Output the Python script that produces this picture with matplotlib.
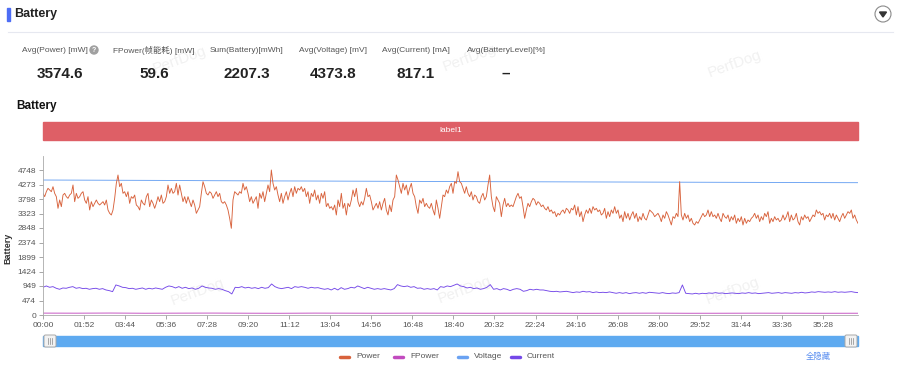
import numpy as np
import matplotlib
matplotlib.use('Agg')
import matplotlib.pyplot as plt
from matplotlib.patches import Rectangle, Circle, Polygon, FancyBboxPatch

plt.rcParams['font.family'] = ['Liberation Sans', 'Noto Sans CJK SC', 'DejaVu Sans']

# ---- data ----
duration = 2224  # seconds covered (about 37:04)

stat_labels = ['Avg(Power) [mW]', 'FPower(帧能耗) [mW]', 'Sum(Battery)[mWh]',
               'Avg(Voltage) [mV]', 'Avg(Current) [mA]', 'Avg(BatteryLevel)[%]']
stat_values = ['3574.6', '59.6', '2207.3', '4373.8', '817.1', '–']

power = [
    3984, 3875, 4038, 4148, 4093, 4038, 4202, 3984, 3875, 3493,
    3766, 3548, 3929, 3984, 3875, 3820, 3929, 3984, 4257, 3711,
    3984, 3820, 3875, 3984, 4038, 3766, 3657, 3875, 3439, 3711,
    3548, 3657, 3766, 3657, 3602, 3657, 3711, 3602, 3766, 3439,
    3329, 3275, 3439, 3820, 4311, 4584, 4202, 4311, 3984, 4038,
    3875, 4038, 3657, 3875, 3820, 3929, 3602, 3548, 3439, 3766,
    3657, 3602, 3875, 3984, 3548, 3766, 3657, 3493, 3657, 3875,
    3711, 3929, 3657, 3711, 3875, 4257, 3984, 4148, 3984, 4038,
    4311, 3929, 4257, 3984, 3711, 3875, 3657, 3875, 3711, 3548,
    3766, 3602, 3329, 3439, 3548, 3984, 4366, 4202, 3984, 3929,
    4038,
    # 03:43 - 08:10 region
    3984, 3820, 3929, 4038, 3875, 3984, 3711, 3657, 3711, 3602,
    3439, 3166, 2839, 3766, 4038, 3984, 3929, 4038, 3984, 4311,
    4093, 4202, 3984, 3711, 3875, 3657, 3766, 3875, 3493, 3984,
    3820, 4038, 3711, 3984, 4257, 4038, 4748, 4311, 4093, 4202,
    3929, 3711, 3984, 3657, 3875, 4038, 3766, 3984, 4148, 3875,
    4202, 3984, 4148, 4093, 4202, 4038, 4148, 3875, 4038, 3657,
    3984, 3875, 4093, 3766, 3929, 3657, 3984, 3820, 4038, 3548,
    3657, 3493, 3548, 3439, 3602, 3275, 3766, 3548, 3984, 3493,
    3657, 3275, 3657, 3548, 3766, 4093, 3875, 4148, 3711, 3548,
    3711, 3602, 3820, 4148, 3875, 3929, 3711, 3439, 3548,
    # 16:00 region
    3657, 3493, 3711, 3439, 3657, 3820, 3439, 3275, 3602, 3384,
    3766, 3875, 4584, 4420, 4202, 3984, 4311, 4093, 4257, 3929,
    4148, 4311, 3984, 3875, 3548, 3329, 3766, 3657, 3820, 3548,
    3657, 3548, 3493, 3657, 3439, 3275, 3766, 3493, 3166, 3548,
    3929, 3875, 4093, 3984, 4202, 4311, 3984, 4366, 4311, 4693,
    4366, 4311, 4148, 3984, 4202, 3984, 3875, 4038, 3766, 3929,
    3875, 3711, 3657, 3875, 3984, 3766, 3875, 4257, 4584, 3875,
    3548, 3384, 3875, 3766, 3657, 3220, 3602, 3820, 3548, 3657,
    3548, 3602, 3548, 3711, 3875, 3984, 3820, 3875, 3548, 3166,
    3439, 3657, 3548, 3711, 3820, 3766, 3602, 3711, 3657,
    # 22:00 region
    3548, 3602, 3493, 3439, 3548, 3384, 3439, 3329, 3384, 3220,
    3329, 3275, 3384, 3439, 3329, 3493, 3439, 3329, 3493, 3439,
    3602, 3275, 3548, 3220, 3384, 3057, 3275, 3439, 3329, 3493,
    3329, 3548, 3439, 3493, 3384, 3439, 3275, 3329, 3493, 3166,
    3384, 3220, 3439, 3329, 3548, 3329, 3439, 3166, 3275, 3057,
    3384, 3166, 3329, 3111, 3275, 3384, 3166, 3329, 3057, 3220,
    3111, 3329, 3166, 3111, 3275, 3439, 3384, 3329, 3220, 3275,
    3329, 3220, 3057, 3275, 3166, 3384, 3275, 3111, 2948, 3220,
    3166, 3329, 3220, 4366, 3275, 3111, 3329, 3166, 3275, 3057,
    3166, 3002, 2948, 3057, 3002, 3111, 3220, 3329, 3220,
    # 31:00 region
    3275, 3439, 3220, 3384, 3220, 3275, 3166, 3329, 3166, 3057,
    3329, 3220, 3166, 3275, 3057, 3220, 3111, 3275, 3002, 3166,
    3057, 3220, 2948, 3166, 3002, 3111, 3057, 3166, 3220, 3329,
    3166, 3275, 3057, 3220, 3111, 3329, 3220, 3384, 3002, 3166,
    3057, 3220, 3111, 3166, 3057, 3111, 3275, 3111, 3220, 3384,
    3057, 3275, 3111, 3166, 3329, 3057, 2948, 3220, 3111, 3275,
    3166, 3220, 3057, 3166, 3275, 3220, 3439, 3329, 3384, 3275,
    3329, 3111, 3275, 3220, 3329, 3166, 3329, 3111, 3275, 3166,
    3057, 3220, 3329, 3166, 3275, 3384, 3329, 3439, 3166, 3275,
    3111, 3002,
]

current = [
    907, 951, 907, 929, 875, 842, 885, 875, 907, 929,
    875, 896, 864, 875, 842, 864, 875, 842, 864, 820,
    798, 765, 984, 951, 907, 896, 864, 875, 842, 864,
    885, 842, 875, 853, 885, 864, 842, 907, 951, 929,
    885, 929, 875, 907, 864, 885, 842, 875, 951, 907,
    885,
    875, 842, 864, 842, 798, 765, 689, 907, 896, 929,
    885, 907, 875, 896, 864, 907, 875, 896, 1016, 929,
    885, 864, 885, 907, 864, 929, 907, 929, 907, 875,
    907, 885, 896, 864, 842, 864, 820, 875, 820, 896,
    842, 864, 907, 885, 951, 907, 864, 907, 875, 842,
    864, 842, 864, 842, 820, 864, 995, 951, 929, 951,
    907, 929, 875, 885, 842, 864, 842, 864, 820, 929,
    907, 951, 929, 973, 1016, 951, 929, 885, 907, 864,
    885, 842, 864, 907, 995, 842, 864, 820, 864, 842,
    798, 842, 864, 842, 776, 798, 842, 820, 842, 820,
    820, 798, 776, 765, 776, 755, 765, 776, 755, 733,
    755, 744, 776, 755, 765, 733, 755, 733, 744, 733,
    755, 733, 711, 733, 711, 733, 700, 722, 733, 711,
    733, 711, 744, 733, 722, 711, 733, 711, 700, 722,
    711, 733, 984, 711, 700, 689, 711, 689, 711, 700,
    722, 711, 733, 711, 722, 700, 711, 722, 711, 700,
    722, 711, 733, 711, 722, 700, 711, 722, 733, 711,
    722, 733, 711, 733, 722, 711, 733, 722, 744, 722,
    733, 755, 744, 765, 755, 744, 755, 744, 765, 744,
    755, 744, 755, 765, 744, 733,
]

voltage = [4420, 4415, 4410, 4405, 4398, 4392, 4388, 4383, 4378, 4372,
           4368, 4364, 4360, 4356, 4352, 4348, 4344, 4340, 4336, 4333]

fpower = [62, 60, 64, 58, 61, 63, 59, 57, 62, 60, 58, 61, 59,
          57, 60, 58, 56, 59, 61, 57, 58, 60, 59, 57, 58]

series_names = ['Power', 'FPower', 'Voltage', 'Current']
series_colors = ['#d8623c', '#c24bbf', '#6aa2f2', '#7448e8']

y_step = 474.8
y_ticks = np.arange(11) * y_step
x_ticks = np.arange(0, duration, 112)

# ---- figure ----
W, H = 900, 365
fig = plt.figure(figsize=(W / 100, H / 100), dpi=100)

# page decoration drawn in pixel coordinates
bg = fig.add_axes([0, 0, 1, 1])
bg.set_xlim(0, W)
bg.set_ylim(H, 0)
bg.axis('off')

bg.add_patch(Rectangle((7, 8), 2.5, 13, color='#4d6df5'))
bg.text(14, 14.5, 'Battery', fontsize=9, fontweight='bold', color='#222', va='center')
bg.plot([8, 893], [32, 32], color='#e6e8f0', lw=0.8)
bg.add_patch(Circle((883, 14), 8, fc='white', ec='#8a8a8a', lw=0.8))
bg.add_patch(Polygon([(879.5, 12), (886.5, 12), (883, 17)], color='#333'))

for wx, wy in [(180, 60), (470, 58), (735, 64), (198, 292), (465, 290), (733, 291)]:
    bg.text(wx, wy, 'PerfDog', fontsize=11, color='#f1f1f1', rotation=20,
            ha='center', va='center')

label_x = [55, 154, 247, 333, 416, 506]
for x, lab, val in zip(label_x, stat_labels, stat_values):
    bg.text(x, 50, lab, fontsize=6, color='#555', ha='center', va='center')
    bg.text(x + (5 if x == 55 else 0), 74, val, fontsize=11, fontweight='bold',
            color='#222', ha='center', va='center')
bg.add_patch(Circle((94, 50), 4, color='#a0a0a0'))
bg.text(94, 50.3, '?', fontsize=5, fontweight='bold', color='white', ha='center', va='center')

bg.text(16, 106, 'Battery', fontsize=8.5, fontweight='bold', color='#111', va='center')
bg.add_patch(Rectangle((43, 122), 815, 18, color='#de5f66'))
bg.text(450.5, 131, 'label1', fontsize=6, color='white', ha='center', va='center')

# slider
bg.add_patch(Rectangle((43, 336), 815, 10, color='#5eaaf0'))
for hx in (44, 845):
    bg.add_patch(FancyBboxPatch((hx, 335), 12, 12, boxstyle='round,pad=0,rounding_size=1.5',
                                fc='#f2f2f2', ec='#a8a8a8', lw=0.7))
    for dx in (4.2, 6, 7.8):
        bg.plot([hx + dx, hx + dx], [338, 344], color='#888', lw=0.5)

# legend
leg_x = [340, 394, 458, 511]
for x, name, col in zip(leg_x, series_names, series_colors):
    bg.plot([x, x + 9], [356.5, 356.5], color=col, lw=2.5, solid_capstyle='round')
    bg.text(x + 16, 356.5, name, fontsize=6, color='#555', va='center')
bg.text(818, 356.5, '全隐藏', fontsize=6, color='#5b8ff0', ha='center', va='center')

fig.text(8 / W, 1 - 248 / H, 'Battery', rotation=90, fontsize=6.5,
         fontweight='bold', color='#333', ha='center', va='center')

# ---- chart ----
ax = fig.add_axes([43 / W, (H - 315) / H, 815 / W, (315 - 155.5) / H])
ax.patch.set_alpha(0)

t_power = np.linspace(0, duration, len(power))
t_current = np.linspace(0, duration, len(current))
t_voltage = np.linspace(0, duration, len(voltage))
t_fpower = np.linspace(0, duration, len(fpower))

lw = 0.65
ax.plot(t_voltage, voltage, color=series_colors[2], lw=lw)
ax.plot(t_power, power, color=series_colors[0], lw=lw)
ax.plot(t_fpower, fpower, color=series_colors[1], lw=lw)
ax.plot(t_current, current, color=series_colors[3], lw=lw)

ax.set_xlim(0, duration)
ax.set_ylim(0, 11 * y_step)
ax.set_yticks(y_ticks)
ax.set_yticklabels([str(int(v)) for v in y_ticks])
ax.set_xticks(x_ticks)
ax.set_xticklabels([f'{int(s) // 60:02d}:{int(s) % 60:02d}' for s in x_ticks])
ax.tick_params(axis='both', labelsize=6, length=3, width=0.6, pad=2,
               colors='#999', labelcolor='#555')
for side in ('top', 'right'):
    ax.spines[side].set_visible(False)
for side in ('left', 'bottom'):
    ax.spines[side].set_color('#aaa')
    ax.spines[side].set_linewidth(0.6)

fig.savefig('out.png', dpi=100)
